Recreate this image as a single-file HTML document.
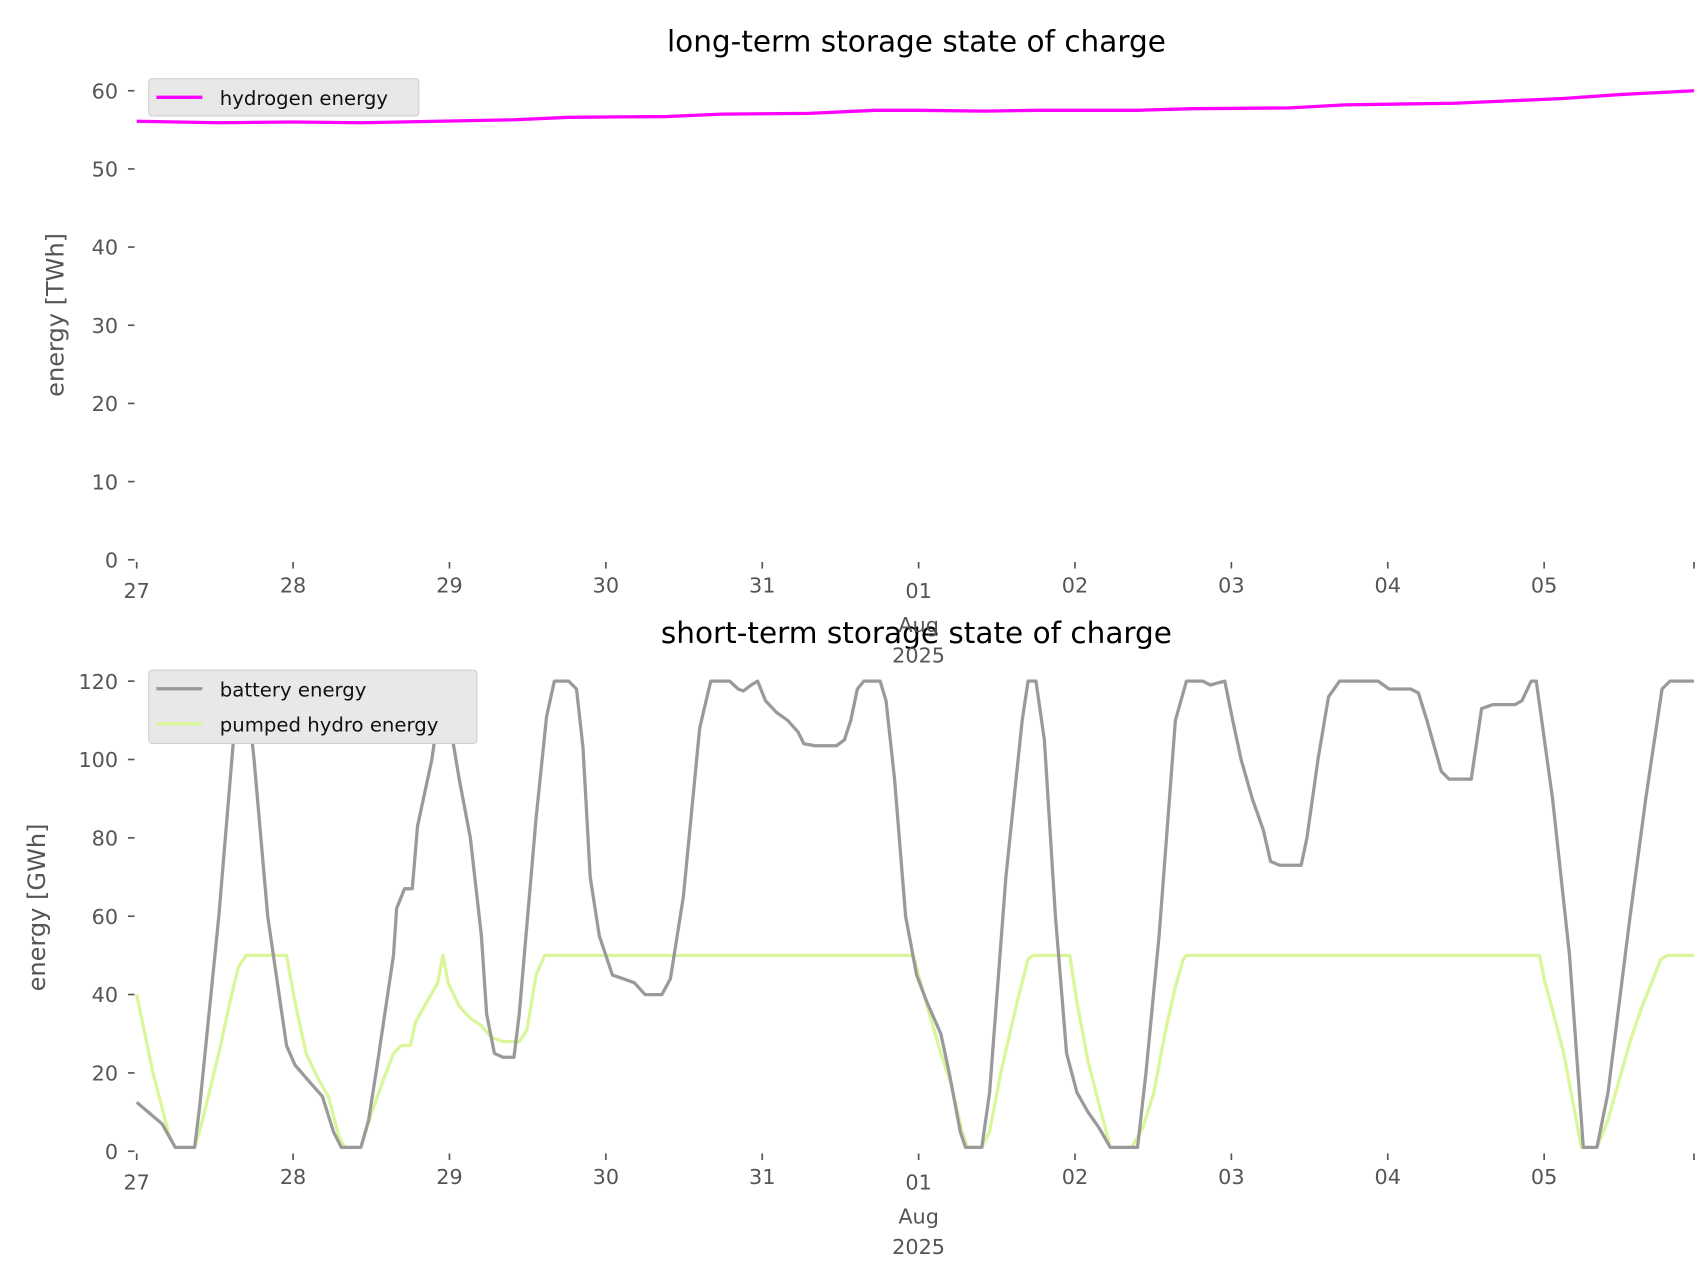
<!DOCTYPE html>
<html><head><meta charset="utf-8"><style>
body{margin:0;background:#fff;}
svg{display:block;}
svg text{font-family:"DejaVu Sans","Liberation Sans",sans-serif;}
</style></head><body>
<svg id="chart" width="1706" height="1277" viewBox="0 0 1560 1168" preserveAspectRatio="none" xmlns="http://www.w3.org/2000/svg">
<rect width="1560" height="1168" fill="#fff"/>
<text x="838" y="47" font-size="27" text-anchor="middle" fill="#000">long-term storage state of charge</text>
<text x="838" y="588" font-size="27" text-anchor="middle" fill="#000">short-term storage state of charge</text>
<text transform="translate(58,288) rotate(-90)" font-size="22" text-anchor="middle" fill="#555">energy [TWh]</text>
<text transform="translate(41,830) rotate(-90)" font-size="22" text-anchor="middle" fill="#555">energy [GWh]</text>
<g id="axes"></g>
<g id="lines"></g>
<g>
<rect x="136" y="72" width="247" height="34" rx="3" fill="#e8e8e8" stroke="#d0d0d0"/>
<line x1="143" y1="89" x2="185" y2="89" stroke="#ff00ff" stroke-width="3"/>
<text x="201" y="96" font-size="18" fill="#111">hydrogen energy</text>
</g>
<g>
<rect x="136" y="613" width="300" height="67" rx="3" fill="#e8e8e8" stroke="#d0d0d0"/>
<line x1="143" y1="630" x2="185" y2="630" stroke="#999" stroke-width="3"/>
<text x="201" y="637" font-size="18" fill="#111">battery energy</text>
<line x1="143" y1="662" x2="185" y2="662" stroke="#d9f79a" stroke-width="3"/>
<text x="201" y="669" font-size="18" fill="#111">pumped hydro energy</text>
</g>
</svg>
<script>
const xTickLabels=["27","28","29","30","31","01","02","03","04","05"];
const topYTicks=[0,10,20,30,40,50,60];
const bottomYTicks=[0,20,40,60,80,100,120];
const h2Hours=[0,12.6,24,34.4,46.2,58,66.3,81.4,89.8,103.2,113.3,120,130.1,138.5,153.6,162,177,185.4,202.2,210.5,218.9,227.3,239];
const h2Values=[56.1,55.9,56,55.9,56.1,56.3,56.6,56.7,57,57.1,57.5,57.5,57.4,57.5,57.5,57.7,57.8,58.2,58.4,58.7,59,59.5,60];
const batHours=[0,3.9,5.9,8.9,9.7,12.6,15.1,15.9,16.8,18,20.1,23,24.3,26.9,28.5,30.2,31.4,34.4,35.6,36.9,39.4,39.9,41.1,42.3,43.1,45.3,47,49.5,51.2,52.9,53.7,54.9,56.2,57.9,58.7,61.3,62.9,64.1,66.3,67.5,68.5,69.6,71,73,74.7,76.4,78,80.6,81.9,83.9,86.4,88.1,91,92.3,93.1,94.3,95.3,96.5,98.2,99.9,101.5,102.4,104.1,107.4,108.6,109.6,110.6,111.6,114.1,115,116.3,118,119.7,121.3,123.4,124.7,126.4,127.2,129.7,130.9,133.4,135.9,136.8,138,139.3,141,142.7,144.3,146,147.7,149.4,153.6,154.9,156.9,159.4,161.1,163.6,164.8,165.8,167,168.2,169.5,171.2,172.9,174,175.4,178.7,179.6,181.3,182.9,184.6,190.5,192.2,195.5,196.7,198,200.2,201.4,204.8,206.4,208.1,211.5,212.6,214,214.8,217.3,219.9,222,224.1,225.8,229.2,231.6,234.1,235.3,239];
const batValues=[12.5,7,1,1,12,60,110,120,120,100,60,27,22,17,14,5,1,1,8,22,50,62,67,67,83,100,120,95,80,55,35,25,24,24,35,85,111,120,120,118,103,70,55,45,44,43,40,40,44,65,108,120,120,118,117.5,119,120,115,112,110,107,104,103.5,103.5,105,110,118,120,120,115,95,60,45,38,30,20,5,1,1,15,70,110,120,120,105,60,25,15,10,6,1,1,20,55,110,120,120,119,119.5,120,110,100,90,82,74,73,73,80,100,116,120,120,118,118,117,110,97,95,95,113,114,114,115,120,120,90,50,1,1,15,60,90,118,120,120];
const phHours=[0,2.5,5,5.9,8.9,10.1,12.6,14.3,15.6,16.8,23,24.3,26,27.7,29.4,31,31.9,34.4,36.1,37.8,39.4,40.6,42,42.8,44.5,46.2,47,47.8,49.5,51.2,52.9,54.5,56.2,58.7,59.9,61.3,62.6,119.2,120.8,123.4,125,126.7,127.5,129.7,130.9,132.6,135.1,136.8,137.6,143.2,144.3,146,147.7,149.4,152.7,154.4,156.1,157.8,159.4,160.6,161.1,215.3,216,217.3,219,220.7,221.7,224.1,225.8,227.5,229.2,230.8,232.5,233.9,235,239];
const phValues=[40,20,4,1,1,8,25,38,47,50,50,38,25,19,14,4,1,1,10,18,25,27,27,33,38,43,50,43,37,34,32,29,28,28,31,45,50,50,40,25,17,5,1,1,5,20,38,49,50,50,38,23,12,1,1,6,15,30,42,49,50,50,44,36,25,10,1,1,8,18,28,36,43,49,50,50];

const NS="http://www.w3.org/2000/svg";
const X0=125, PXH=143/24, XEND=1549;
const xs=h=>X0+h*PXH;
const yTop=v=>512-v*(429/60);
const yBot=v=>1053-v*(430/120);
const axes=document.getElementById('axes'), lines=document.getElementById('lines');
function mk(tag,attrs,parent){const e=document.createElementNS(NS,tag);for(const k in attrs)e.setAttribute(k,attrs[k]);parent.appendChild(e);return e;}

function drawAxes(panel,yFn,ticks,base){
  ticks.forEach(v=>{
    const t=mk('line',{x1:117,x2:123,y1:yFn(v),y2:yFn(v),stroke:'#555','stroke-width':1.5},axes);
    
    
    const l=mk('text',{x:108,y:yFn(v)+7,'font-size':19,'text-anchor':'end',fill:'#555'},axes);
    l.textContent=v;
    
    
  });
  for(let i=0;i<=10;i++){
    const x=i<10?xs(i*24):XEND;
    const t=mk('line',{x1:x,x2:x,y1:base+2,y2:base+8,stroke:'#555','stroke-width':1.5},axes);
    
    
    if(i<10){
      const l=mk('text',{x:x,y:base+(i===0||i===5?35:30),'font-size':19,'text-anchor':'middle',fill:'#555'},axes);
      l.textContent=xTickLabels[i];
      
      
    }
  }
  const a=mk('text',{x:xs(120),y:base+66,'font-size':19,'text-anchor':'middle',fill:'#555'},axes);
  a.textContent='Aug';
  
  
  const b=mk('text',{x:xs(120),y:base+94,'font-size':19,'text-anchor':'middle',fill:'#555'},axes);
  b.textContent='2025';
  
  
}
drawAxes('top',yTop,topYTicks,512);
drawAxes('bottom',yBot,bottomYTicks,1053);

function drawLine(name,hours,vals,yFn,color){
  const d=hours.map((h,i)=>(i?'L':'M')+xs(h).toFixed(1)+','+yFn(vals[i]).toFixed(1)).join('');
  const p=mk('path',{d:d,fill:'none',stroke:color,'stroke-width':3,'stroke-linejoin':'round'},lines);
  
  
}
drawLine('hydrogen-energy-line',h2Hours,h2Values,yTop,'#ff00ff');
drawLine('pumped-hydro-energy-line',phHours,phValues,yBot,'#d9f79a');
drawLine('battery-energy-line',batHours,batValues,yBot,'#9a9a9a');
</script>
</body></html>
